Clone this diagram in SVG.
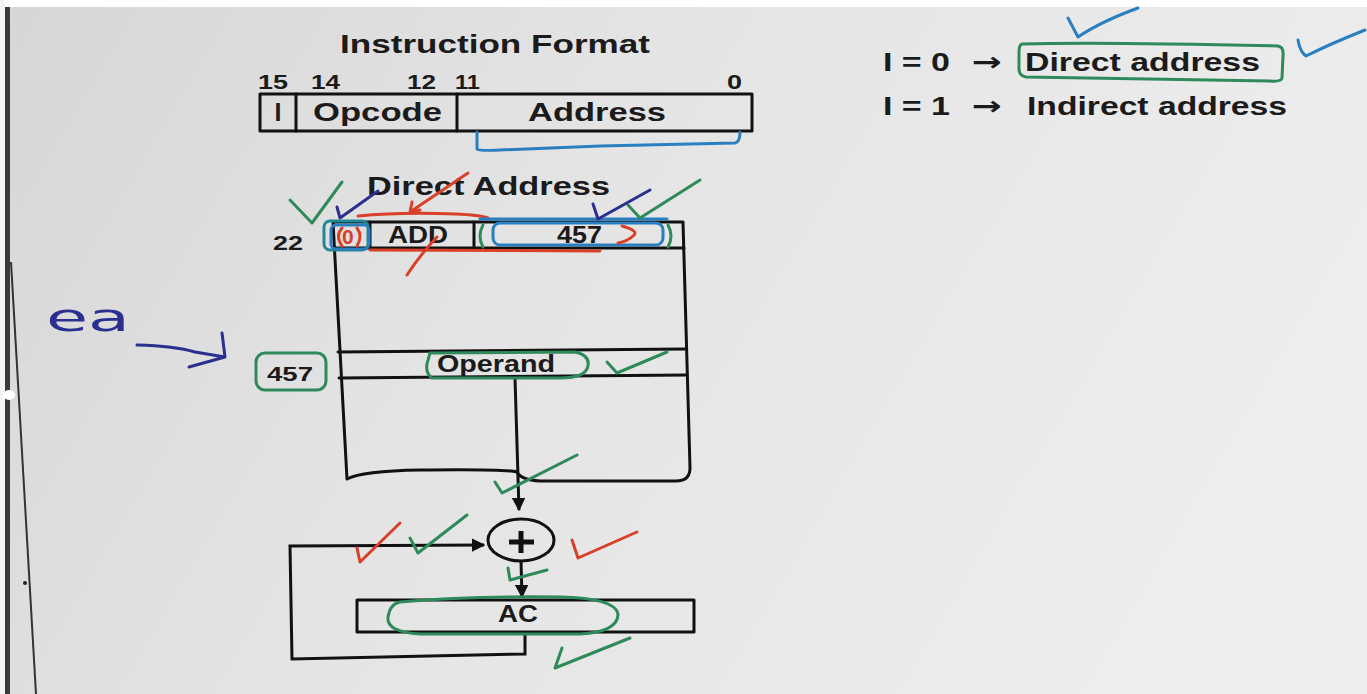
<svg xmlns="http://www.w3.org/2000/svg" width="1367" height="694" viewBox="0 0 1367 694">
  <defs>
    <linearGradient id="bg" x1="0" y1="0" x2="1" y2="0.3">
      <stop offset="0" stop-color="#d6d6d6"/>
      <stop offset="0.45" stop-color="#e4e4e4"/>
      <stop offset="1" stop-color="#ededed"/>
    </linearGradient>
    <marker id="arr" viewBox="0 0 10 10" refX="9" refY="5" markerWidth="4.5" markerHeight="4.5" orient="auto" markerUnits="strokeWidth">
      <path d="M0,0 L10,5 L0,10 Z" fill="#111"/>
    </marker>
    <style>
      .t{font-family:"Liberation Sans",Arial,sans-serif;font-weight:bold;fill:#1b1b1b}
      .ln{fill:none;stroke:#111;stroke-width:3;stroke-linejoin:round;stroke-linecap:round}
      .cn{fill:none;stroke:#111;stroke-width:3}
      .green{fill:none;stroke:#2e8a5a;stroke-width:3;stroke-linecap:round;stroke-linejoin:round}
      .blue{fill:none;stroke:#2a7fc0;stroke-width:3;stroke-linecap:round;stroke-linejoin:round}
      .dblue{fill:none;stroke:#2b2f8f;stroke-width:3;stroke-linecap:round;stroke-linejoin:round}
      .red{fill:none;stroke:#d8402a;stroke-width:3;stroke-linecap:round;stroke-linejoin:round}
    </style>
  </defs>

  <!-- background (photo of a screen) -->
  <rect x="0" y="0" width="1367" height="694" fill="url(#bg)"/>
  <rect x="0" y="0" width="1367" height="7" fill="#ffffff"/>
  <rect x="0" y="0" width="5" height="694" fill="#f4f4f4"/>
  <rect x="5" y="7" width="5" height="687" fill="#3a3a3a"/>
  <path d="M11,262 L36,694" stroke="#333" stroke-width="2" fill="none"/>
  <ellipse cx="9" cy="395" rx="6" ry="5" fill="#ffffff"/>
  <circle cx="25" cy="583" r="2" fill="#222"/>

  <!-- Instruction format node -->
  <g id="instruction-format">
    <text class="t" x="340" y="53" font-size="26" textLength="310" lengthAdjust="spacingAndGlyphs">Instruction Format</text>
    <text class="t" x="258" y="89" font-size="20" textLength="30" lengthAdjust="spacingAndGlyphs">15</text>
    <text class="t" x="311" y="89" font-size="20" textLength="29" lengthAdjust="spacingAndGlyphs">14</text>
    <text class="t" x="407" y="89" font-size="20" textLength="29" lengthAdjust="spacingAndGlyphs">12</text>
    <text class="t" x="455" y="89" font-size="20" textLength="25" lengthAdjust="spacingAndGlyphs">11</text>
    <text class="t" x="727" y="89" font-size="20" textLength="15" lengthAdjust="spacingAndGlyphs">0</text>
    <rect x="260" y="94" width="492" height="37" class="ln"/>
    <line x1="296" y1="94" x2="296" y2="131" class="ln"/>
    <line x1="457" y1="94" x2="457" y2="131" class="ln"/>
    <text class="t" x="278" y="121" font-size="25" text-anchor="middle">I</text>
    <text class="t" x="313" y="121" font-size="25" textLength="129" lengthAdjust="spacingAndGlyphs">Opcode</text>
    <text class="t" x="528" y="121" font-size="25" textLength="138" lengthAdjust="spacingAndGlyphs">Address</text>
  </g>

  <!-- addressing-mode legend -->
  <g id="mode-legend">
    <text class="t" x="883" y="71" font-size="26" textLength="67" lengthAdjust="spacingAndGlyphs">I = 0</text>
    <text class="t" x="972" y="71" font-size="26" style="font-family:'DejaVu Sans',sans-serif" textLength="30" lengthAdjust="spacingAndGlyphs">→</text>
    <text class="t" x="1025" y="71" font-size="26" textLength="235" lengthAdjust="spacingAndGlyphs">Direct address</text>
    <text class="t" x="883" y="115" font-size="26" textLength="67" lengthAdjust="spacingAndGlyphs">I = 1</text>
    <text class="t" x="972" y="115" font-size="26" style="font-family:'DejaVu Sans',sans-serif" textLength="30" lengthAdjust="spacingAndGlyphs">→</text>
    <text class="t" x="1027" y="115" font-size="26" textLength="260" lengthAdjust="spacingAndGlyphs">Indirect address</text>
  </g>

  <!-- Direct address title -->
  <g id="direct-address-title">
    <text class="t" x="367" y="195" font-size="26" textLength="243" lengthAdjust="spacingAndGlyphs">Direct Address</text>
  </g>

  <!-- memory node -->
  <g id="memory">
    <path class="ln" d="M333,222 L683,222 L690,468 Q690,481 676,481 L540,481 Q521,480 517,472 Q505,469 420,470 Q362,471 347,479 L333,222 Z"/>
    <line x1="334" y1="248" x2="684" y2="248" class="ln"/>
    <line x1="370" y1="222" x2="370" y2="248" class="ln"/>
    <line x1="474" y1="222" x2="474" y2="248" class="ln"/>
    <line x1="338" y1="352" x2="686" y2="349" class="ln"/>
    <line x1="339" y1="378" x2="687" y2="375" class="ln"/>
    <text class="t" x="388" y="243" font-size="23" textLength="60" lengthAdjust="spacingAndGlyphs">ADD</text>
    <text class="t" x="557" y="243" font-size="23" textLength="45" lengthAdjust="spacingAndGlyphs">457</text>
    <text class="t" x="437" y="372" font-size="23" textLength="118" lengthAdjust="spacingAndGlyphs">Operand</text>
    <text class="t" x="273" y="250" font-size="21" textLength="30" lengthAdjust="spacingAndGlyphs">22</text>
    <text class="t" x="267" y="381" font-size="21" textLength="46" lengthAdjust="spacingAndGlyphs">457</text>
    <text x="342" y="244" font-size="21" font-family="Liberation Sans, Arial, sans-serif" font-weight="bold" fill="#d8402a">0</text>
  </g>

  <!-- adder node -->
  <g id="adder">
    <ellipse cx="521" cy="540" rx="33" ry="21" class="ln"/>
    <line x1="509" y1="542" x2="534" y2="542" stroke="#111" stroke-width="5"/>
    <line x1="521" y1="531" x2="521" y2="553" stroke="#111" stroke-width="5"/>
  </g>

  <!-- AC node -->
  <g id="ac">
    <rect x="357" y="600" width="337" height="32" class="ln"/>
    <text class="t" x="498" y="622" font-size="23" textLength="40" lengthAdjust="spacingAndGlyphs">AC</text>
  </g>

  <!-- connectors -->
  <g id="connectors">
    <path class="cn" d="M515,378 L519,510" marker-end="url(#arr)"/>
    <path class="cn" d="M521,561 L522,597" marker-end="url(#arr)"/>
    <path class="cn" d="M525,632 L525,654 L292,659 L290,546 L484,545" stroke-linejoin="miter" marker-end="url(#arr)"/>
  </g>

  <!-- handwritten annotations -->
  <g id="annotations">
    <path class="blue" d="M477,132 L477,149 Q478,151 500,150 L600,146 L735,143 Q740,142 740,132"/>
    <path class="green" d="M1022,44 Q1100,42 1278,46 Q1284,47 1283,56 L1282,78 Q1281,82 1270,81 L1026,77 Q1018,76 1019,66 L1019,52 Q1019,45 1022,44 Z"/>
    <path class="blue" d="M1068,18 L1078,37 Q1100,22 1138,8"/>
    <path class="blue" d="M1298,40 Q1300,52 1306,56 Q1330,44 1365,30"/>
    <path class="green" d="M290,200 L312,223 L342,182"/>
    <path class="dblue" d="M337,207 L340,218 L378,191"/>
    <rect x="324" y="221" width="44" height="29" rx="6" fill="none" stroke="#1f8a94" stroke-width="3"/>
    <rect x="331" y="225" width="38" height="24" rx="5" class="blue"/>
    <path class="red" d="M342,228 Q335,236 342,246"/>
    <path class="red" d="M357,228 Q363,236 357,246"/>
    <path class="red" d="M358,216 Q400,212 455,214 Q480,215 488,218"/>
    <path class="red" d="M370,250 L600,251"/>
    <path class="red" d="M468,173 L410,212 M410,212 L412,202 M410,212 L420,210"/>
    <path class="red" d="M437,237 Q420,255 407,275"/>
    <path class="blue" d="M480,219 L667,219"/>
    <rect x="493" y="223" width="170" height="22" rx="7" class="blue"/>
    <path class="green" d="M483,225 Q477,236 483,247"/>
    <path class="green" d="M668,225 Q674,236 668,247"/>
    <path class="red" d="M622,226 Q640,231 633,236 Q628,241 618,243"/>
    <path class="dblue" d="M593,204 L598,219 L650,190"/>
    <path class="green" d="M628,205 L640,218 L700,180"/>
    <text x="46" y="331" font-size="38" font-family="DejaVu Sans, sans-serif" fill="#2b2f8f" textLength="84" lengthAdjust="spacingAndGlyphs">ea</text>
    <path class="dblue" d="M137,345 Q175,346 195,352 L225,357 M222,333 L225,357 L189,367"/>
    <rect x="256" y="353" width="70" height="37" rx="9" class="green"/>
    <path class="green" d="M430,353 L575,352 Q590,355 588,366 Q586,378 560,378 L432,378 Q424,372 428,360 Z"/>
    <path class="green" d="M607,362 L617,373 L667,352"/>
    <path class="green" d="M495,482 L502,493 L577,455"/>
    <path class="red" d="M357,548 L360,562 L400,523"/>
    <path class="green" d="M410,538 L418,553 L467,515"/>
    <path class="red" d="M572,540 L578,558 L637,532"/>
    <path class="green" d="M508,568 L510,580 L547,570"/>
    <path class="green" d="M400,602 Q470,596 560,597 Q615,598 618,614 Q618,632 580,634 L420,634 Q386,632 388,617 Q390,604 400,602 Z"/>
    <path class="green" d="M562,648 L555,668 L630,638"/>
  </g>
</svg>
